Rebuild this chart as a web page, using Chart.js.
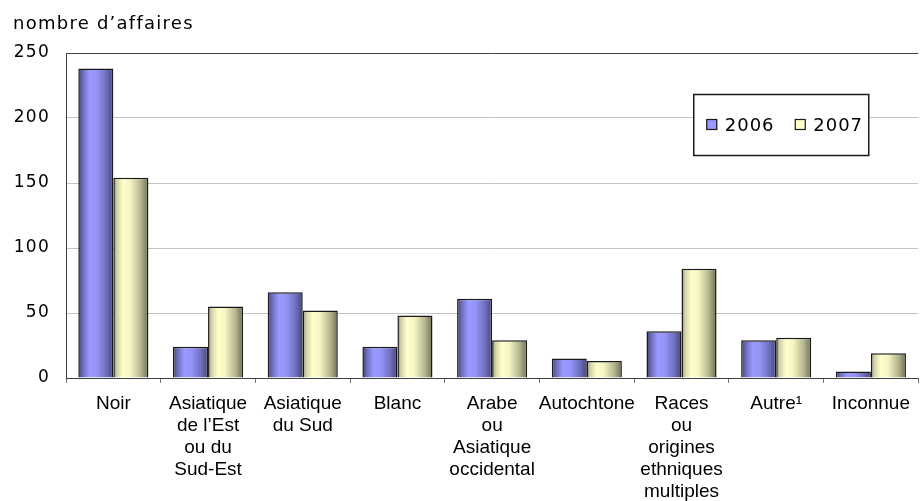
<!DOCTYPE html>
<html lang="fr">
<head>
<meta charset="utf-8">
<title>nombre d'affaires</title>
<script src="https://cdn.jsdelivr.net/npm/chart.js@4.4.1/dist/chart.umd.min.js"></script>
<style>
  html, body { margin: 0; padding: 0; background: #fff; }
  #chart { display: block; }
</style>
</head>
<body>
<canvas id="chart" width="920" height="501"></canvas>
<script>
// ── Data ──
const CATEGORIES = [
  ["Noir"],
  ["Asiatique", "de l\u2019Est", "ou du", "Sud-Est"],
  ["Asiatique", "du Sud"],
  ["Blanc"],
  ["Arabe", "ou", "Asiatique", "occidental"],
  ["Autochtone"],
  ["Races", "ou", "origines", "ethniques", "multiples"],
  ["Autre\u00b9"],
  ["Inconnue"],
];
const SERIES = ["2006", "2007"];
const VALUES_2006 = [238, 24, 66, 24, 61, 15, 36, 29, 5];
const VALUES_2007 = [154, 55, 52, 48, 29, 13, 84, 31, 19];
const Y_TICKS = [0, 50, 100, 150, 200, 250];

// ── Look ──
const CAT_PCT = 0.74;
const STOPS = [
  [[0, "#3e3e72"], [0.12, "#6a6ab8"], [0.32, "#9999ff"], [0.52, "#9595f8"], [0.78, "#7272c2"], [1, "#46467c"]],
  [[0, "#8e8e70"], [0.1, "#d2d2a8"], [0.28, "#ffffcc"], [0.48, "#f6f6c4"], [0.78, "#b6b690"], [1, "#6e6e55"]],
];
const SWATCH = ["#9999ff", "#ffffcc"];

// horizontal shading across each bar, from the bar element's own geometry
const barShade = {
  id: "barShade",
  beforeDatasetsDraw(chart) {
    const ctx = chart.ctx;
    chart.data.datasets.forEach((d, i) => {
      chart.getDatasetMeta(i).data.forEach((el) => {
        const left = el.x - el.width / 2;
        const g = ctx.createLinearGradient(left, 0, left + el.width, 0);
        STOPS[i].forEach(([o, col]) => g.addColorStop(o, col));
        el.options.backgroundColor = g;
      });
    });
  },
};

// letter spacing: wide for title / y ticks, none for x labels (drawn after bars)
const spacing = {
  id: "spacing",
  beforeDraw(chart) { chart.ctx.letterSpacing = "1.25px"; },
  afterDatasetsDraw(chart) { chart.ctx.letterSpacing = "0px"; },
};

// boxed legend inside the plot area
const boxLegend = {
  id: "boxLegend",
  afterDraw(chart) {
    const { ctx, chartArea } = chart;
    const bx = chartArea.right - 225, by = chartArea.top + 41;
    ctx.save();
    ctx.fillStyle = "#fff";
    ctx.fillRect(bx, by, 175, 61);
    ctx.strokeStyle = "#1a1a1a";
    ctx.lineWidth = 1.5;
    ctx.strokeRect(bx + 0.5, by + 0.5, 175, 61);
    ctx.letterSpacing = "1px";
    ctx.font = '18px "DejaVu Sans"';
    ctx.textBaseline = "alphabetic";
    const offs = [13, 101.5];
    chart.data.datasets.forEach((d, i) => {
      const sx = bx + offs[i];
      ctx.fillStyle = SWATCH[i];
      ctx.fillRect(sx, by + 25, 11, 11);
      ctx.lineWidth = 1.2;
      ctx.strokeStyle = "#1a1a1a";
      ctx.strokeRect(sx + 0.5, by + 25.5, 10, 10);
      ctx.fillStyle = "#000";
      ctx.fillText(d.label, sx + 18.5, by + 37);
    });
    ctx.restore();
  },
};

new Chart(document.getElementById("chart"), {
  type: "bar",
  data: {
    labels: CATEGORIES,
    datasets: [
      // scriptable so each bar keeps its own options object
      { label: SERIES[0], data: VALUES_2006, backgroundColor: () => SWATCH[0] },
      { label: SERIES[1], data: VALUES_2007, backgroundColor: () => SWATCH[1] },
    ],
  },
  options: {
    responsive: false,
    animation: false,
    layout: { padding: { left: 13, right: 0, top: 0, bottom: 0 } },
    datasets: {
      bar: {
        categoryPercentage: CAT_PCT,
        barPercentage: 1,
        borderColor: "#1a1a1a",
        borderWidth: 1.5,
      },
    },
    plugins: {
      legend: { display: false },
      tooltip: { enabled: false },
      title: {
        display: true,
        text: "nombre d\u2019affaires",
        align: "start",
        color: "#000",
        font: { family: "DejaVu Sans", size: 18, weight: "normal", lineHeight: 1.2 },
        padding: { top: 14, bottom: 17.4 },
      },
    },
    scales: {
      x: {
        grid: { drawOnChartArea: false, offset: true, tickLength: 5, color: "#707070" },
        border: { color: "#404040", width: 1 },
        ticks: {
          z: 1,
          autoSkip: false,
          maxRotation: 0,
          padding: 10,
          color: "#000",
          font: { family: "Liberation Sans", size: 19, lineHeight: 22 / 19 },
        },
        afterFit(s) { s.height = 123; },
      },
      y: {
        min: 0,
        max: 250,
        afterBuildTicks(s) { s.ticks = Y_TICKS.map((v) => ({ value: v })); },
        grid: {
          drawTicks: false,
          color: (c) => (c.tick && c.tick.value === 250 ? "#404040" : "#c4c4c4"),
        },
        border: { color: "#404040", width: 1 },
        ticks: {
          padding: 16,
          color: "#000",
          font: { family: "DejaVu Sans", size: 17 },
        },
        afterFit(s) { s.width = 53; },
      },
    },
  },
  plugins: [barShade, spacing, boxLegend],
});
</script>
</body>
</html>
